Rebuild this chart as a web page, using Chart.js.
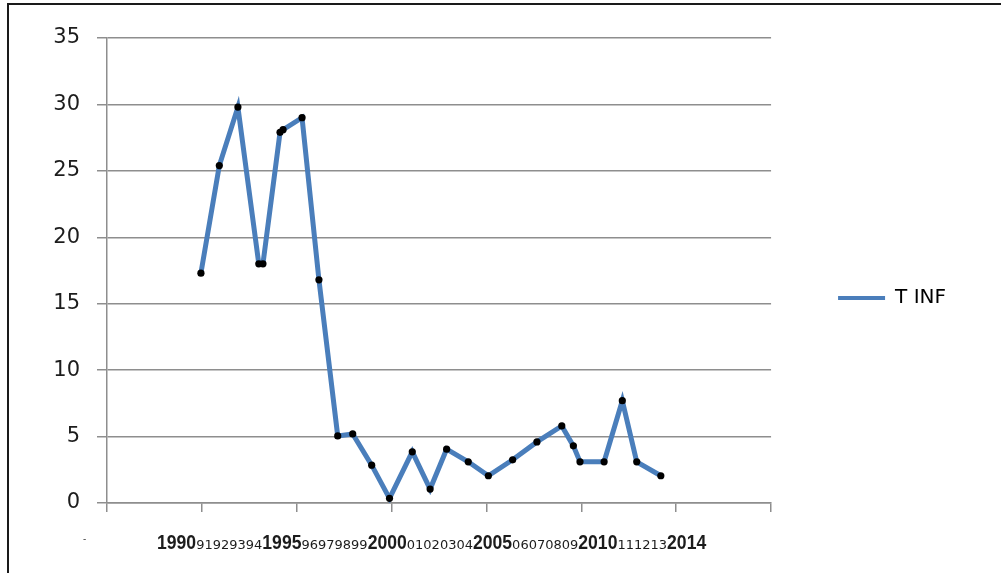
<!DOCTYPE html>
<html>
<head>
<meta charset="utf-8">
<script src="https://cdn.jsdelivr.net/npm/chart.js@4.4.1/dist/chart.umd.min.js"></script>
<style>
  html, body { margin: 0; padding: 0; background: #fff; }
  #wrap { position: relative; width: 1001px; height: 573px; }
</style>
</head>
<body>
<div id="wrap"><canvas id="c"></canvas></div>
<script>
// Observation years (x) and inflation rate T INF (y)
const years = [1989.95, 1990.92, 1991.9, 1993.0, 1993.22, 1994.12, 1994.28, 1995.28, 1996.17,
               1997.16, 1997.95, 1998.95, 1999.89, 2001.09, 2002.03, 2002.9, 2004.04, 2005.1,
               2006.38, 2007.66, 2008.97, 2009.58, 2009.93, 2011.2, 2012.16, 2012.92, 2014.19];
const tinf  = [17.3, 25.4, 29.8, 18.0, 18.0, 27.9, 28.1, 29.0, 16.8,
               5.05, 5.2, 2.85, 0.35, 3.85, 1.05, 4.05, 3.1, 2.05,
               3.25, 4.6, 5.8, 4.3, 3.1, 3.1, 7.7, 3.1, 2.05];

// Year caption row under the axis
const yearLabels = ['1990', '91', '92', '93', '94', '1995', '96', '97', '98', '99',
                    '2000', '01', '02', '03', '04', '2005', '06', '07', '08', '09',
                    '2010', '11', '12', '13', '2014'];

const seriesName = 'T INF';
const yMin = 0, yMax = 35, yStep = 5;
const xMin = 1985, xMax = 2020, xStep = 5;

const lineBlue = '#4a7ebb';
const gridGray = '#8e8e8e';
const textDark = '#1c1c1c';

const points = years.map((x, i) => ({ x, y: tinf[i] }));

// Outer frame of the chart box
const framePlugin = {
  id: 'frame',
  afterDraw(chart) {
    const ctx = chart.ctx;
    ctx.save();
    ctx.strokeStyle = '#1a1a1a';
    ctx.lineWidth = 2;
    ctx.beginPath();
    ctx.moveTo(8, chart.height + 2);
    ctx.lineTo(8, 4);
    ctx.lineTo(chart.width + 2, 4);
    ctx.stroke();
    ctx.restore();
  }
};

// Caption row of years: full years large and bold, the rest small
const yearRowPlugin = {
  id: 'yearRow',
  afterDraw(chart) {
    const ctx = chart.ctx;
    const area = chart.chartArea;
    const baseY = area.bottom + 46;
    let x = area.left + 50;
    ctx.save();
    ctx.fillStyle = textDark;
    ctx.textBaseline = 'alphabetic';
    ctx.textAlign = 'left';
    yearLabels.forEach(lbl => {
      const big = lbl.length === 4;
      ctx.font = big ? 'bold 20px "Liberation Sans"' : '13px "DejaVu Sans"';
      const sx = big ? 0.88 : 1.0;
      const w = ctx.measureText(lbl).width * sx;
      ctx.save();
      ctx.translate(x, baseY);
      ctx.scale(sx, 1);
      ctx.fillText(lbl, 0, 0);
      ctx.restore();
      x += w;
    });
    // small stray dash left of the caption row
    ctx.font = '9px "DejaVu Sans"';
    ctx.fillText('-', area.left - 24, baseY - 7);
    ctx.restore();
  }
};

new Chart(document.getElementById('c'), {
  type: 'line',
  data: {
    datasets: [{
      label: seriesName,
      data: points,
      borderColor: lineBlue,
      backgroundColor: lineBlue,
      borderWidth: 5,
      borderJoinStyle: 'miter',
      tension: 0,
      pointStyle: 'circle',
      pointRadius: 3.6,
      pointBackgroundColor: '#000',
      pointBorderColor: '#000',
      pointBorderWidth: 0
    }]
  },
  options: {
    responsive: true,
    maintainAspectRatio: false,
    animation: false,
    layout: { padding: { top: 38, left: 0, right: 45, bottom: 15 } },
    scales: {
      x: {
        type: 'linear',
        min: xMin,
        max: xMax,
        ticks: { stepSize: xStep, callback: () => '', font: { size: 1 } },
        grid: { drawOnChartArea: false, drawTicks: true, tickLength: 9, color: gridGray, lineWidth: 1.5 },
        border: { color: gridGray, width: 1.5 },
        afterFit: s => { s.height = 55; }
      },
      y: {
        min: yMin,
        max: yMax,
        ticks: { stepSize: yStep, padding: 17, color: textDark, font: { family: 'DejaVu Sans', size: 21 } },
        grid: { color: gridGray, lineWidth: 1.5, tickLength: 10 },
        border: { color: gridGray, width: 1.5 },
        afterFit: s => { s.width = 107; }
      }
    },
    plugins: {
      legend: {
        position: 'right',
        align: 'center',
        labels: {
          boxWidth: 47,
          boxHeight: 4,
          padding: 67,
          color: textDark,
          font: { family: 'DejaVu Sans', size: 20 },
          generateLabels: chart => [{
            text: seriesName,
            fillStyle: lineBlue,
            strokeStyle: lineBlue,
            lineWidth: 0,
            hidden: false,
            datasetIndex: 0
          }]
        }
      },
      tooltip: { enabled: false }
    }
  },
  plugins: [framePlugin, yearRowPlugin]
});
</script>
</body>
</html>
